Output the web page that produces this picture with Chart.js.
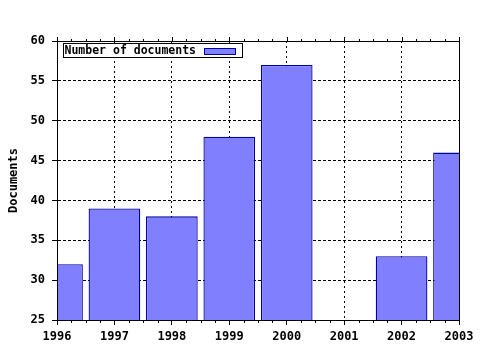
<!DOCTYPE html>
<html>
<head>
<meta charset="utf-8">
<script src="https://cdn.jsdelivr.net/npm/chart.js@4"></script>
<style>
  html, body { margin: 0; padding: 0; background: #fff; }
  #wrap { width: 480px; height: 350px; }
</style>
</head>
<body>
<div id="wrap"><canvas id="docChart" width="480" height="350"></canvas></div>
<script>
// data
var years = [1996, 1997, 1998, 1999, 2000, 2001, 2002, 2003];
var documents = [32, 39, 38, 48, 57, null, 33, 46];
var yTicks = [25, 30, 35, 40, 45, 50, 55, 60];
var seriesLabel = 'Number of documents';

var barFill = '#8080ff';
var barEdge = '#0000a0';

Chart.defaults.font.family = '"DejaVu Sans Mono", "Liberation Mono", monospace';
Chart.defaults.font.weight = 'bold';
Chart.defaults.font.size = 12;
Chart.defaults.color = '#000';

// frame, small ticks and the boxed legend inside the plot
var framePlugin = {
  id: 'frame',
  afterDatasetsDraw: function (chart) {
    var ctx = chart.ctx;
    var a = chart.chartArea;
    var xs = chart.scales.x;
    ctx.save();
    ctx.strokeStyle = '#000';
    ctx.lineWidth = 1;
    ctx.setLineDash([]);
    ctx.strokeRect(Math.round(a.left) + 0.5, Math.round(a.top) + 0.5,
      Math.round(a.right - a.left), Math.round(a.bottom - a.top));

    // quarter-year ticks on top and bottom edges
    ctx.beginPath();
    for (var v = years[0]; v <= years[years.length - 1] + 0.001; v += 0.25) {
      var px = Math.round(xs.getPixelForValue(v)) + 0.5;
      var major = Math.abs(v - Math.round(v)) < 0.001;
      ctx.moveTo(px, Math.round(a.top));
      ctx.lineTo(px, Math.round(a.top) - (major ? 4 : 2));
      if (!major) {
        ctx.moveTo(px, Math.round(a.bottom));
        ctx.lineTo(px, Math.round(a.bottom) + 3);
      }
    }
    ctx.stroke();
    ctx.restore();
  },
  afterDraw: function (chart) {
    var ctx = chart.ctx;
    var a = chart.chartArea;
    var ds = chart.data.datasets[0];
    var bx = Math.round(a.left) + 6.5, by = Math.round(a.top) + 2.5;
    ctx.save();
    ctx.fillStyle = '#fff';
    ctx.fillRect(bx, by, 179, 14);
    ctx.strokeStyle = '#000';
    ctx.lineWidth = 1;
    ctx.strokeRect(bx, by, 179, 14);
    ctx.fillStyle = '#000';
    ctx.font = 'bold 11.5px "DejaVu Sans Mono", monospace';
    ctx.textBaseline = 'middle';
    ctx.textAlign = 'left';
    ctx.fillText(ds.label, bx + 1, by + 7.5);
    ctx.fillStyle = ds.backgroundColor;
    ctx.fillRect(bx + 141, by + 5, 31, 6);
    ctx.strokeStyle = ds.borderColor;
    ctx.strokeRect(bx + 141, by + 5, 31, 6);
    ctx.restore();
  }
};

var ctx = document.getElementById('docChart');
new Chart(ctx, {
  type: 'bar',
  data: {
    datasets: [{
      label: seriesLabel,
      data: years.map(function (y, i) { return { x: y, y: documents[i] }; }),
      backgroundColor: barFill,
      borderColor: barEdge,
      borderWidth: 1.3,
      borderSkipped: 'bottom',
      inflateAmount: 0,
      barPercentage: 0.9,
      categoryPercentage: 1.0,
      clip: 0
    }]
  },
  options: {
    responsive: false,
    animation: false,
    layout: { padding: { top: 41, right: 21, left: 0, bottom: 0 } },
    plugins: {
      legend: { display: false },
      tooltip: { enabled: false }
    },
    scales: {
      x: {
        type: 'linear',
        offset: false,
        min: years[0],
        max: years[years.length - 1],
        afterFit: function (s) { s.height = 30; },
        afterBuildTicks: function (s) {
          s.ticks = years.map(function (v) { return { value: v }; });
        },
        ticks: {
          padding: 5,
          maxRotation: 0,
          autoSkip: false,
          callback: function (v) { return String(v); }
        },
        grid: {
          offset: false,
          color: '#000',
          lineWidth: 1,
          tickLength: 5,
          tickColor: '#000'
        },
        border: { display: true, color: '#000', dash: [2, 3] }
      },
      y: {
        min: yTicks[0],
        max: yTicks[yTicks.length - 1],
        afterFit: function (s) { s.width = 57; },
        afterBuildTicks: function (s) {
          s.ticks = yTicks.map(function (v) { return { value: v }; });
        },
        ticks: {
          padding: 7,
          callback: function (v) { return String(v); }
        },
        title: {
          display: true,
          text: 'Documents',
          padding: { top: 7, bottom: 0 },
          font: { size: 12, weight: 'bold' }
        },
        grid: {
          color: '#000',
          lineWidth: 1,
          tickLength: 5,
          tickColor: '#000'
        },
        border: { display: true, color: '#000', dash: [3, 2] }
      }
    }
  },
  plugins: [framePlugin]
});
</script>
</body>
</html>
